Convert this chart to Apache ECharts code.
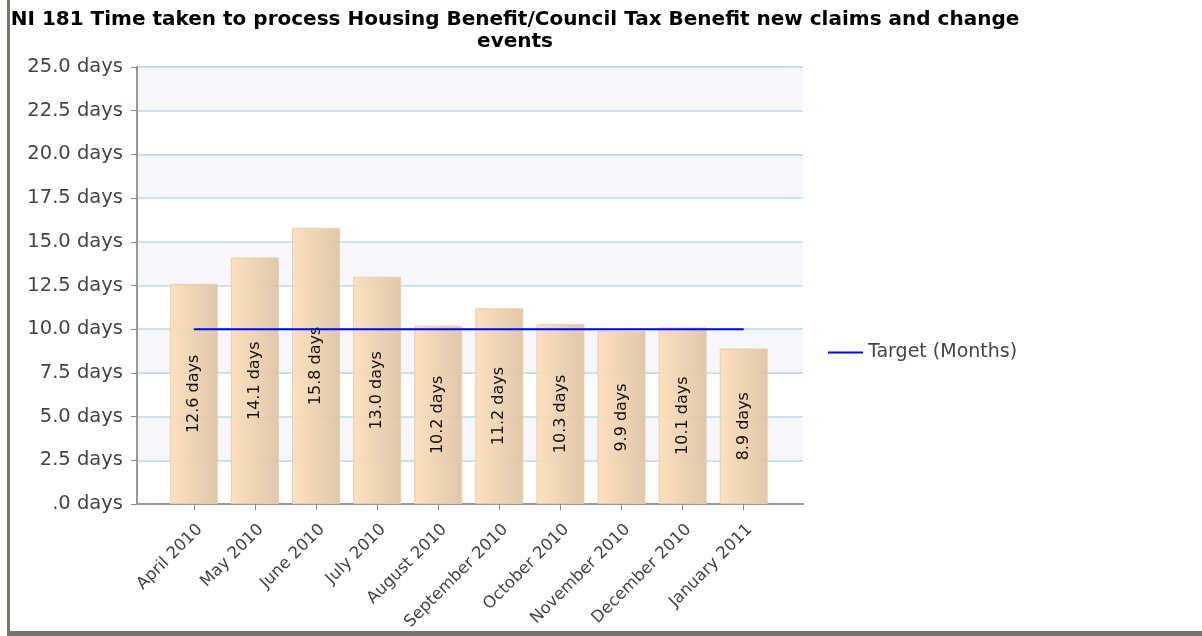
<!DOCTYPE html>
<html>
<head>
<meta charset="utf-8">
<script src="https://cdn.jsdelivr.net/npm/echarts@6/dist/echarts.min.js"></script>
<style>
html,body{margin:0;padding:0;background:#fff;}
#chart{width:1202px;height:636px;}
</style>
</head>
<body>
<div id="chart"></div>
<script>
const titleText = 'NI 181 Time taken to process Housing Benefit/Council Tax Benefit new claims and change\nevents';
const categories = ['April 2010','May 2010','June 2010','July 2010','August 2010','September 2010','October 2010','November 2010','December 2010','January 2011'];
const actualValues = [12.6, 14.1, 15.8, 13.0, 10.2, 11.2, 10.3, 9.9, 10.1, 8.9];
const targetValues = [10, 10, 10, 10, 10, 10, 10, 10, 10, 10];
const targetName = 'Target (Months)';

const idx = categories.map((c, i) => i);
const chart = echarts.init(document.getElementById('chart'));
const font = 'DejaVu Sans';

chart.setOption({
  animation: false,
  backgroundColor: '#ffffff',
  title: {
    text: titleText,
    left: 510,
    top: 4,
    textAlign: 'center',
    textStyle: {fontFamily: font, fontSize: 20, fontWeight: 'bold', color: '#000', lineHeight: 22}
  },
  legend: {
    data: [{name: targetName, icon: 'rect'}],
    left: 823,
    top: 338,
    itemWidth: 35,
    itemHeight: 2,
    itemGap: 6,
    textStyle: {fontFamily: font, fontSize: 19, color: '#444'}
  },
  grid: {left: 137, right: 399, top: 67, bottom: 132, containLabel: false},
  xAxis: {
    type: 'value',
    min: -0.93,
    max: 9.97,
    splitLine: {show: false},
    axisLine: {show: true, onZero: false, lineStyle: {color: '#999', width: 2}},
    axisTick: {show: true, customValues: idx, length: 6, lineStyle: {color: '#888', width: 1}},
    axisLabel: {
      customValues: idx,
      rotate: 45,
      verticalAlign: 'top',
      formatter: v => categories[Math.round(v)],
      fontFamily: font, fontSize: 16.5, color: '#444', margin: 17
    }
  },
  yAxis: {
    type: 'value',
    min: 0,
    max: 25,
    interval: 2.5,
    axisLine: {show: true, onZero: false, lineStyle: {color: '#999', width: 2}},
    axisTick: {show: true, length: 6, lineStyle: {color: '#888', width: 1}},
    axisLabel: {
      formatter: v => (v === 0 ? '.0' : v.toFixed(1)) + ' days',
      fontFamily: font, fontSize: 19.5, color: '#444', margin: 14
    },
    splitLine: {show: true, lineStyle: {color: '#b2dfe5', width: 1.5}},
    splitArea: {show: true, areaStyle: {color: ['#ffffff', '#f6f7fd']}}
  },
  series: [
    {
      type: 'bar',
      name: 'Actual',
      data: actualValues.map((v, i) => [i, v]),
      barWidth: 48,
      itemStyle: {
        color: new echarts.graphic.LinearGradient(0, 0, 1, 0, [
          {offset: 0, color: '#fcdfba'},
          {offset: 1, color: '#dec3a1'}
        ]),
        borderColor: '#e9cca5',
        borderWidth: 1,
        opacity: 0.92
      },
      label: {
        show: true,
        position: 'inside',
        rotate: 90,
        formatter: p => p.value[1].toFixed(1) + ' days',
        fontFamily: font, fontSize: 16, color: '#000'
      },
      z: 2
    },
    {
      type: 'line',
      name: targetName,
      data: targetValues.map((v, i) => [i, v]),
      showSymbol: false,
      symbol: 'none',
      lineStyle: {color: '#0000ff', width: 2},
      itemStyle: {color: '#0000ff'},
      z: 3
    }
  ],
  graphic: [
    {type: 'rect', shape: {x: 7, y: 0, width: 3, height: 636}, style: {fill: '#76766a'}, silent: true},
    {type: 'rect', shape: {x: 7, y: 631, width: 1195, height: 5}, style: {fill: '#76766a'}, silent: true}
  ]
});
</script>
</body>
</html>
